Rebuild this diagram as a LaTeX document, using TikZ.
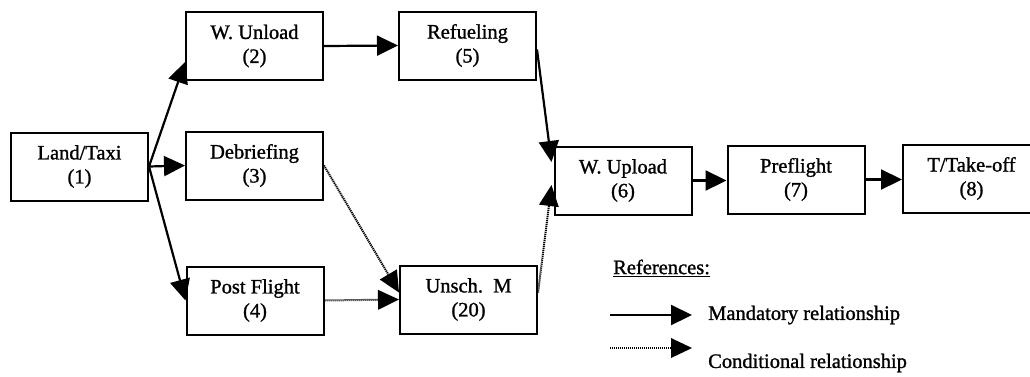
\documentclass[tikz,border=0pt]{standalone}
\usepackage{fontspec}
\setmainfont{Liberation Serif}[FakeBold=1.2]
\usetikzlibrary{arrows.meta}
\begin{document}
\begin{tikzpicture}[x=1pt,y=-1pt,
  box/.style={draw,line width=2pt,minimum width=137pt,minimum height=68pt,inner sep=0pt,align=center,font=\fontsize{20.5}{24}\selectfont},
  txt/.style={inner sep=0pt,font=\fontsize{20.5}{24}\selectfont},
  mand/.style={line width=2.2pt,-{Triangle[length=21pt,width=20pt]}},
  cond/.style={line width=2pt,dash pattern=on 1.2pt off 0.8pt,-{Triangle[length=21pt,width=20pt,line width=0pt]}}]
\useasboundingbox (0,0) rectangle (1030,376);
\clip (0,0) rectangle (1030,376);
\node[box] (n1) at (79.5,166.5) {Land/Taxi\\(1)};
\node[box] (n2) at (254.5,46) {W. Unload\\(2)};
\node[box] (n3) at (254.5,165.5) {Debriefing\\(3)};
\node[box] (n4) at (255,300.5) {Post Flight\\(4)};
\node[box] (n5) at (467.5,45.5) {Refueling\\(5)};
\node[box] (n20) at (468.5,299.5) {Unsch.\ \ M\\(20)};
\node[box] (n6) at (623,180.5) {W. Upload\\(6)};
\node[box] (n7) at (796,179.5) {Preflight\\(7)};
\node[box] (n8) at (971.5,178.5) {T/Take-off\\(8)};
\draw[mand] (n1.east) -- ([yshift=-16pt]n2.west);
\draw[mand] (n1.east) -- (n3.west);
\draw[mand] (n1.east) -- (n4.west);
\draw[mand] (n2.east) -- (n5.west);
\draw[mand] ([yshift=-4pt]n5.east) -- ([xshift=-2pt,yshift=18.5pt]n6.west);
\draw[cond] ([yshift=7pt]n20.east) -- ([xshift=-2pt,yshift=-4.5pt]n6.west);
\draw[cond] (n3.east) -- ([yshift=7pt]n20.west);
\draw[cond] (n4.east) -- (n20.west);
\draw[mand] (n6.east) -- (n6.east -| n7.west);
\draw[mand] (n7.east) -- (n7.east -| n8.west);
\node[txt,anchor=west] (ref) at (613,268) {\underline{References:}};
\coordinate (m1) at (610,315);
\coordinate (m2) at (692,315);
\coordinate (c1) at (610,348);
\coordinate (c2) at (692,348);
\draw[mand] (m1) -- (m2);
\draw[cond] (c1) -- (c2);
\node[txt,anchor=west] (mt) at (708,315) {Mandatory relationship};
\node[txt,anchor=west] (ct) at (708,363) {Conditional relationship};
\end{tikzpicture}
\end{document}
